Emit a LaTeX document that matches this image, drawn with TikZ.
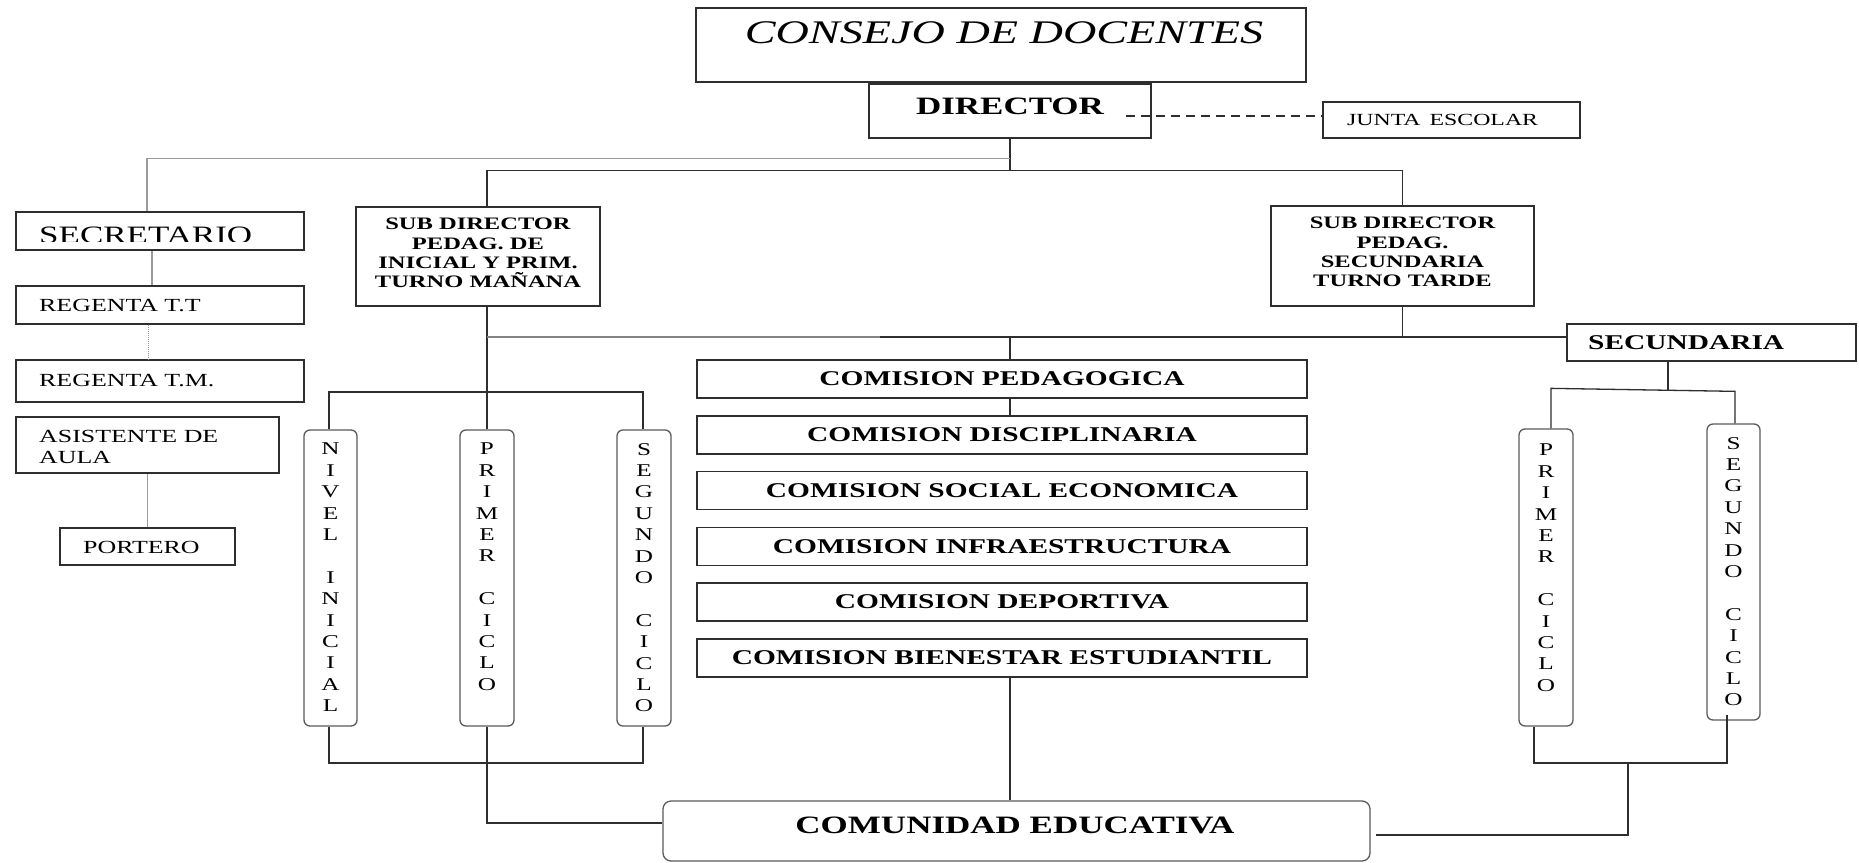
\documentclass[tikz,border=0pt]{standalone}
\usepackage{fontspec}
\setmainfont{Liberation Serif}[FakeStretch=1.4]
\usetikzlibrary{calc}
\definecolor{ln}{HTML}{2E2E2E}
\definecolor{gl}{HTML}{9A9A9A}
\definecolor{rb}{HTML}{5A5A5A}
\tikzset{
  box/.style={draw=ln, line width=1.3pt, rectangle, inner sep=0pt, fill=white},
  rbox/.style={draw=rb, line width=1.3pt, rectangle, rounded corners=6pt, inner sep=0pt, fill=white},
  txt/.style={inner sep=0pt, text=black},
  con/.style={draw=ln, line width=1.3pt},
  gcon/.style={draw=gl, line width=1.3pt},
  vtxt/.style={txt, align=center, font=\fontsize{18}{21.4}\selectfont, anchor=north},
  comtxt/.style={txt, font=\fontsize{21}{24}\selectfont\bfseries},
  admtxt/.style={txt, anchor=west, font=\fontsize{18.5}{21}\selectfont},
  subtxt/.style={txt, align=center, font=\fontsize{17.5}{19.2}\selectfont\bfseries},
}
\begin{document}
\begin{tikzpicture}[x=1pt,y=-1pt]
\useasboundingbox (0,0) rectangle (1859,862);
\fill[white] (0,0) rectangle (1859,862);

% ---------- top ----------
\node[box, minimum width=610pt, minimum height=74pt] (consejo) at (1001,45) {};
\node[txt, font=\fontsize{33}{36}\selectfont\itshape] (consejot) at (1004,33) {CONSEJO DE DOCENTES};
\node[box, minimum width=282pt, minimum height=54pt] (director) at (1010,111) {};
\node[txt, font=\fontsize{25}{28}\selectfont\bfseries] (directort) at (1010,106) {DIRECTOR};
\node[box, minimum width=257pt, minimum height=36pt] (junta) at (1451.5,120) {};
\node[txt, anchor=west, font=\fontsize{17}{20}\selectfont] (juntat) at (1347,120) {JUNTA\hspace{9pt}ESCOLAR};
\coordinate (dash0) at (1126,116);
\draw[con, line width=1.1pt, dash pattern=on 9pt off 6pt] (dash0) -- (dash0 -| junta.west);

% ---------- admin column ----------
\node[box, minimum width=288pt, minimum height=38pt] (secretario) at (160,231) {};
\begin{scope}
  \clip (17,213) rectangle (303,241);
  \node[txt, anchor=base west, font=\fontsize{25}{28}\selectfont] (secretariot) at (39,243.5) {SECRETARIO};
\end{scope}
\node[box, minimum width=288pt, minimum height=38pt] (regtt) at (160,305) {};
\node[admtxt] (regttt) at (39,306) {REGENTA T.T};
\node[box, minimum width=288pt, minimum height=42pt] (regtm) at (160,381) {};
\node[admtxt] (regtmt) at (39,381) {REGENTA T.M.};
\node[box, minimum width=263pt, minimum height=56pt] (asist) at (147.5,445) {};
\node[admtxt, align=left] (asistt) at (39,447) {ASISTENTE DE\\AULA};
\node[box, minimum width=175pt, minimum height=37pt] (portero) at (147.5,546.5) {};
\node[admtxt] (porterot) at (83,547) {PORTERO};

% ---------- sub directors ----------
\node[box, minimum width=244pt, minimum height=99pt] (subL) at (478,256.5) {};
\node[subtxt] (subLt) at (478,253) {SUB DIRECTOR\\PEDAG. DE\\INICIAL Y PRIM.\\TURNO MAÑANA};
\node[box, minimum width=263pt, minimum height=100pt] (subR) at (1402.5,256) {};
\node[subtxt] (subRt) at (1402.5,252) {SUB DIRECTOR\\PEDAG.\\SECUNDARIA\\TURNO TARDE};

% ---------- commissions ----------
\foreach \n/\cy/\t in {compeda/379/COMISION PEDAGOGICA,
                       comdisc/435/COMISION DISCIPLINARIA,
                       comsoc/490.5/COMISION SOCIAL ECONOMICA,
                       cominf/546.5/COMISION INFRAESTRUCTURA,
                       comdep/602/COMISION DEPORTIVA,
                       combien/658/COMISION BIENESTAR ESTUDIANTIL}{
  \node[box, minimum width=610pt, minimum height=38pt] (\n) at (1002,\cy) {};
  \node[comtxt] (\n t) at (1002,\cy) {\t};
}

\node[box, minimum width=289pt, minimum height=37pt] (secund) at (1711.5,342.5) {};
\node[comtxt, anchor=west] (secundt) at (1588,343) {SECUNDARIA};

% ---------- vertical level boxes ----------
\node[rbox, minimum width=53pt, minimum height=296pt] (nivel) at (330.5,578) {};
\node[vtxt] (nivelt) at (330.5,443) {N\\I\\V\\E\\L\\ \\I\\N\\I\\C\\I\\A\\L};
\node[rbox, minimum width=54pt, minimum height=296pt] (primL) at (487,578) {};
\node[vtxt] (primLt) at (487,443) {P\\R\\I\\M\\E\\R\\ \\C\\I\\C\\L\\O};
\node[rbox, minimum width=54pt, minimum height=296pt] (segL) at (644,578) {};
\node[vtxt] (segLt) at (644,443) {S\\E\\G\\U\\N\\D\\O\\ \\C\\I\\C\\L\\O};
\node[rbox, minimum width=54pt, minimum height=297pt] (primR) at (1546,577.5) {};
\node[vtxt] (primRt) at (1546,444) {P\\R\\I\\M\\E\\R\\ \\C\\I\\C\\L\\O};
\node[rbox, minimum width=53pt, minimum height=296pt] (segR) at (1733.5,572) {};
\node[vtxt] (segRt) at (1733.5,437) {S\\E\\G\\U\\N\\D\\O\\ \\C\\I\\C\\L\\O};

% ---------- comunidad ----------
\node[rbox, rounded corners=8pt, draw=rb, minimum width=707pt, minimum height=60pt] (comunidad) at (1016.5,831) {};
\node[txt, font=\fontsize{25}{28}\selectfont\bfseries] (comunidadt) at (1015,825) {COMUNIDAD EDUCATIVA};

% ---------- connectors ----------
\coordinate (j1) at ($(director.south)+(0,32)$);
\draw[con] (director.south) -- (j1);
\draw[con] ([xshift=9pt]subL.north) |- (j1) -| (subR.north);
\coordinate (g1) at ($(director.south)+(0,20)$);
\draw[gcon] (g1) -| ([xshift=-13pt]secretario.north);
\draw[gcon] ([xshift=-8pt]secretario.south) -- ([xshift=-8pt]regtt.north);
\draw[gl, line width=1pt, densely dotted] ([xshift=-12pt]regtt.south) -- ([xshift=-12pt]regtm.north);
\draw[gcon] (asist.south) -- (portero.north);

\draw[con] ([xshift=9pt]subL.south) -- (primL.north);
\coordinate (h1) at (487,337);
\coordinate (h1b) at (880,337);
\draw[draw=gl!80!ln, line width=1.3pt] (h1) -- (h1b);
\draw[con] (h1b) -- (h1 -| secund.west);
\draw[con] (subR.south) -- (subR.south |- h1);
\draw[con] (director.south |- h1) -- (director.south |- compeda.north);
\draw[con] (director.south |- compeda.south) -- (director.south |- comdisc.north);
\draw[con] (director.south |- combien.south) -- (director.south |- comunidad.north);

\coordinate (h2) at (487,392);
\draw[con] ([xshift=-1.5pt]nivel.north) |- (h2) -| ([xshift=-1pt]segL.north);
\coordinate (h3) at (487,763);
\draw[con] ([xshift=-1.5pt]nivel.south) |- (h3) -| ([xshift=-1pt]segL.south);
\draw[con] (primL.south) |- ([yshift=8pt]comunidad.west);

\draw[con] ([xshift=-43.5pt]secund.south) -- ++(0,28);
\draw[con] ([xshift=5pt]primR.north) -- ++(0,-40) -- ++(184,3) -- ([xshift=1.5pt]segR.north);
\coordinate (h5) at (1628,763);
\draw[con] ([xshift=-12pt]primR.south) |- (h5) -| ([xshift=-6.5pt,yshift=6pt]segR.south);
\draw[con] (h5) |- ([xshift=5pt,yshift=-4pt]comunidad.east);
\end{tikzpicture}
\end{document}
